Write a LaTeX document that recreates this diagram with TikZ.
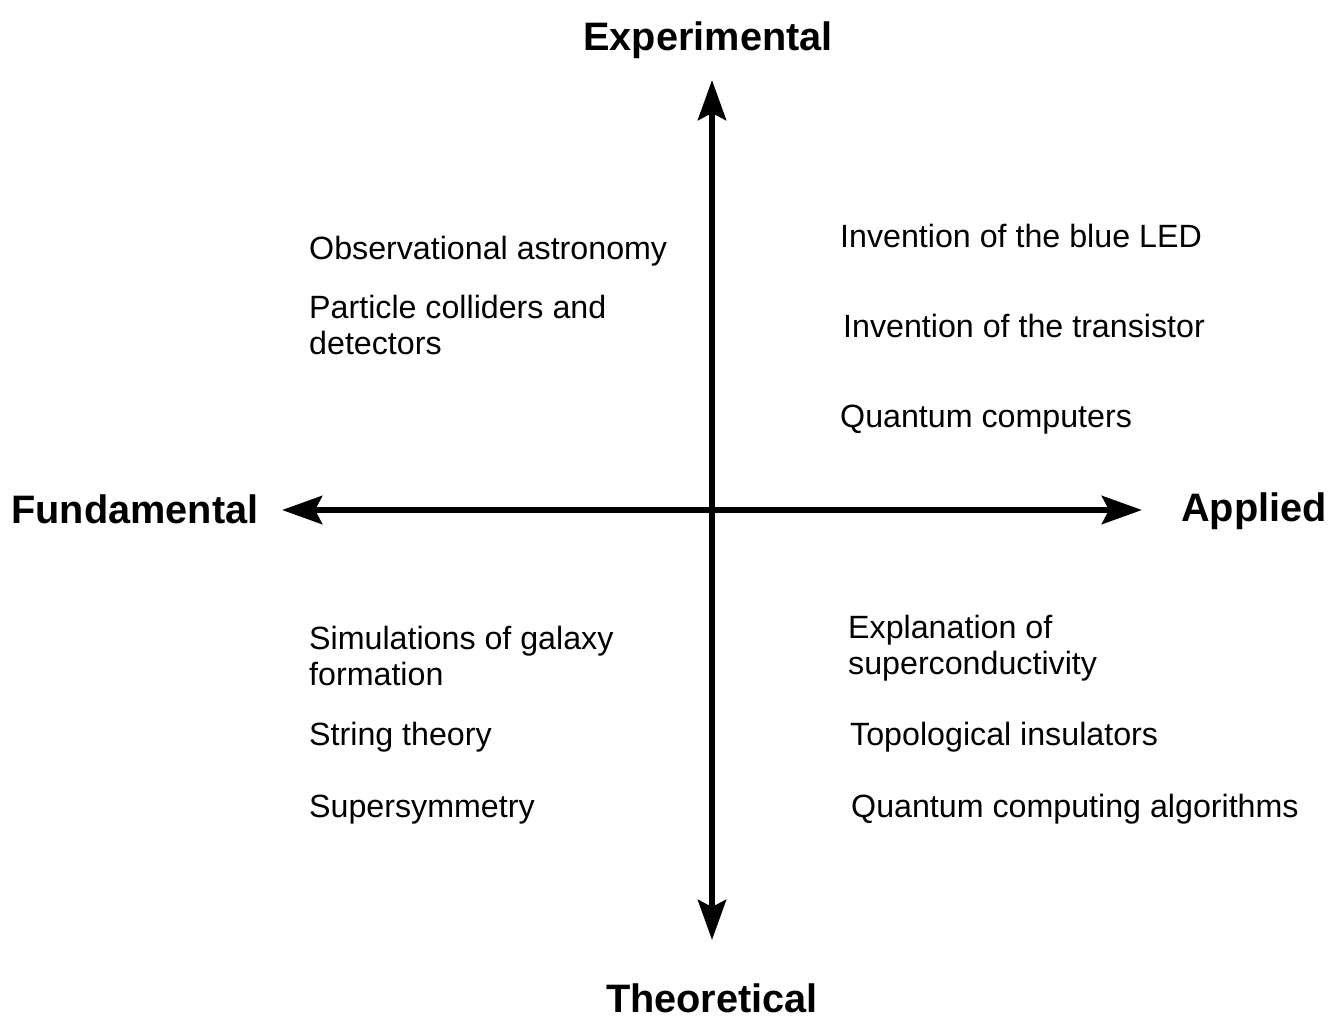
\documentclass[tikz,border=0pt]{standalone}
\usepackage{fontspec}
\setmainfont{Liberation Sans}
\usetikzlibrary{arrows.meta}
\begin{document}
\begin{tikzpicture}[x=1pt,y=-1pt,
  axis/.style={line width=6.5pt,{Stealth[length=40pt,width=28pt,inset=7pt]}-{Stealth[length=40pt,width=28pt,inset=7pt]}},
  item/.style={anchor=base west,inner sep=0pt,align=left,font=\fontsize{32.2}{36}\selectfont},
  pole/.style={inner sep=0pt,font=\fontsize{39.7}{44}\selectfont\bfseries}]
\useasboundingbox (0,0) rectangle (1340,1030);
\coordinate (top) at (712,80);
\coordinate (bot) at (712,940);
\coordinate (lft) at (282,510);
\coordinate (rgt) at (1142,510);
\draw[axis] (bot) -- (top);
\draw[axis] (lft) -- (rgt);
\node[pole] (exp) at (708,40) {Experimental};
\node[pole] (the) at (712,998) {Theoretical};
\node[pole] (fun) at (135,509) {Fundamental};
\node[pole] (app) at (1254,511) {Applied};
\node[item] (a1) at (309,259) {Observational astronomy};
\node[item] (a2) at (309,354) {Particle colliders and\\detectors};
\node[item] (b1) at (840,247) {Invention of the blue LED};
\node[item] (b2) at (843,337) {Invention of the transistor};
\node[item] (b3) at (840,427) {Quantum computers};
\node[item] (c1) at (309,685) {Simulations of galaxy\\formation};
\node[item] (c2) at (309,745) {String theory};
\node[item] (c3) at (309,817) {Supersymmetry};
\node[item] (d1) at (848,674) {Explanation of\\superconductivity};
\node[item] (d2) at (850,745) {Topological insulators};
\node[item] (d3) at (851,817) {Quantum computing algorithms};
\end{tikzpicture}
\end{document}
